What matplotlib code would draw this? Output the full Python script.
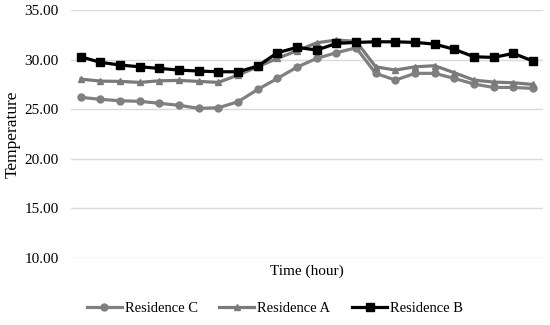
import matplotlib
matplotlib.use("Agg")
from matplotlib import pyplot as plt

plt.rcParams['font.family'] = ['Liberation Serif', 'DejaVu Serif']

# hourly readings, 24 points per residence
hours = list(range(1, 25))
res_c = [26.2, 26.0, 25.86, 25.8, 25.6, 25.4, 25.09, 25.15, 25.76, 27.0, 28.11, 29.25,
         30.13, 30.7, 31.2, 28.62, 27.94, 28.62, 28.62, 28.11, 27.54, 27.2, 27.2, 27.1]
res_a = [28.04, 27.84, 27.81, 27.71, 27.87, 27.91, 27.81, 27.71, 28.45, 29.28, 30.13, 30.9,
         31.7, 31.98, 31.85, 29.28, 28.95, 29.28, 29.39, 28.68, 27.94, 27.74, 27.67, 27.5]
res_b = [30.29, 29.73, 29.46, 29.28, 29.12, 28.95, 28.85, 28.78, 28.78, 29.35, 30.7, 31.24,
         30.97, 31.64, 31.74, 31.8, 31.8, 31.74, 31.57, 31.04, 30.29, 30.23, 30.63, 29.86]
y_ticks = [10, 15, 20, 25, 30, 35]

fig = plt.figure(figsize=(5.5, 3.25), dpi=100)
ax = fig.add_axes([0.129, 0.206, 0.858, 0.763])

ax.plot(hours, res_c, color='#808080', lw=2.3, marker='o', ms=5, label='Residence C')
ax.plot(hours, res_a, color='#7a7a7a', lw=2.3, marker='^', ms=5, label='Residence A')
ax.plot(hours, res_b, color='black', lw=2.3, marker='s', ms=6, label='Residence B')

ax.set_xlim(0.5, 24.5)
ax.set_ylim(10, 35)
ax.set_yticks(y_ticks)
ax.set_yticklabels([f'{v:.2f}' for v in y_ticks], fontsize=11)
ax.set_xticks([])
ax.tick_params(axis='y', length=0, pad=9)
ax.grid(axis='y', color='#d9d9d9', lw=1)
ax.set_axisbelow(True)
for s in ax.spines.values():
    s.set_visible(False)

ax.set_ylabel('Temperature', fontsize=12.5)
ax.yaxis.set_label_coords(-0.106, 0.5)
ax.set_xlabel('Time (hour)', fontsize=11, labelpad=5)

fig.legend(loc='center', bbox_to_anchor=(0.5, 0.052), ncol=3, frameon=False,
           fontsize=10.5, handlelength=2.4, handletextpad=0.2, columnspacing=1.5)

fig.savefig('out.png', dpi=100)
